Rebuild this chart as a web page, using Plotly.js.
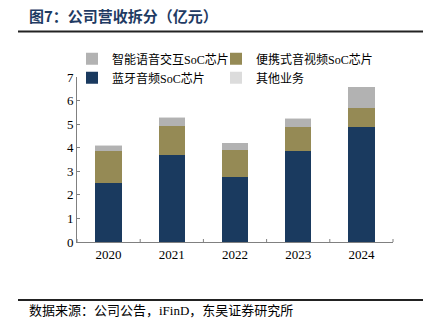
<!DOCTYPE html>
<html><head><meta charset="utf-8">
<script src="https://cdn.plot.ly/plotly-3.0.1.min.js"></script>
<style>html,body{margin:0;padding:0;background:#fff}#chart{width:423px;height:335px}</style>
</head><body><div id="chart"></div>
<script>
const years = ['2020','2021','2022','2023','2024'];
const bluetooth = [2.52, 3.69, 2.76, 3.87, 4.87];
const portable = [1.33, 1.23, 1.14, 0.99, 0.83];
const voice = [0.22, 0.35, 0.29, 0.36, 0.88];
const other = [0.04, 0.05, 0.02, 0.02, 0.01];
const names = ['蓝牙音频SoC芯片','便携式音视频SoC芯片','智能语音交互SoC芯片','其他业务'];
const colors = ['#1a3a5f','#958a55','#b2b2b2','#dcdcdc'];
const ranks = [2,1,1,2];
const legends = ['legend','legend2','legend','legend2'];
const series = [bluetooth, portable, voice, other];
const cjk = '"Liberation Serif","Noto Sans CJK SC",serif';
const traces = series.map((s,i)=>({
  type:'bar', x:years, y:s, name:names[i], legendrank:ranks[i], legend:legends[i],
  marker:{color:colors[i], line:{width:0}}, hoverinfo:'skip'
}));
const L=77, R=393, T=76.7, B=242;
const W=R-L, H=B-T;
const px=(x)=>(x-L)/W, py=(y)=>(B-y)/H;
const legBase = {orientation:'v', traceorder:'normal', yanchor:'top', xanchor:'left',
  font:{size:12, family:cjk}, itemwidth:14, tracegroupgap:0, bgcolor:'rgba(0,0,0,0)'};
const layout = {
  width:423, height:335, barmode:'stack', bargap:0.58,
  margin:{l:L, r:423-R, t:T, b:335-B, pad:0},
  paper_bgcolor:'#fff', plot_bgcolor:'#fff',
  font:{family:cjk, size:13, color:'#000'},
  showlegend:true,
  legend:Object.assign({}, legBase, {x:px(72), y:py(44)}),
  legend2:Object.assign({}, legBase, {x:px(216), y:py(44)}),
  xaxis:{type:'category', showline:true, linecolor:'#808080', linewidth:1, ticks:'', showgrid:false,
    tickfont:{size:13, family:cjk}, fixedrange:true},
  yaxis:{range:[0,7], dtick:1, showline:true, linecolor:'#808080', linewidth:1,
    ticks:'inside', ticklen:3, tickcolor:'#808080', showgrid:false, zeroline:false,
    tickfont:{size:13, family:cjk}, fixedrange:true},
  shapes:[
    {type:'line', xref:'paper', yref:'paper', x0:px(18), x1:px(423), y0:py(31), y1:py(31), line:{color:'#222', width:2}},
    {type:'line', xref:'paper', yref:'paper', x0:px(18), x1:px(423), y0:py(300), y1:py(300), line:{color:'#222', width:2}}
  ].concat([0,1,2,3,4,5].map(k=>({type:'line', xref:'paper', yref:'paper',
    x0:k/5, x1:k/5, y0:0, y1:3/H, line:{color:'#808080', width:1}}))),
  annotations:[
    {text:'<b>图7：公司营收拆分（亿元）</b>', xref:'paper', yref:'paper', x:px(27), y:py(15),
      xanchor:'left', yanchor:'middle', showarrow:false,
      font:{size:15, color:'#1f3b63', family:'"Noto Sans CJK SC",sans-serif'}},
    {text:'数据来源：公司公告，iFinD，东吴证券研究所', xref:'paper', yref:'paper', x:px(27), y:py(311),
      xanchor:'left', yanchor:'middle', showarrow:false,
      font:{size:13, color:'#000', family:cjk}}
  ]
};
Plotly.newPlot('chart', traces, layout, {displayModeBar:false, staticPlot:true});
</script></body></html>
